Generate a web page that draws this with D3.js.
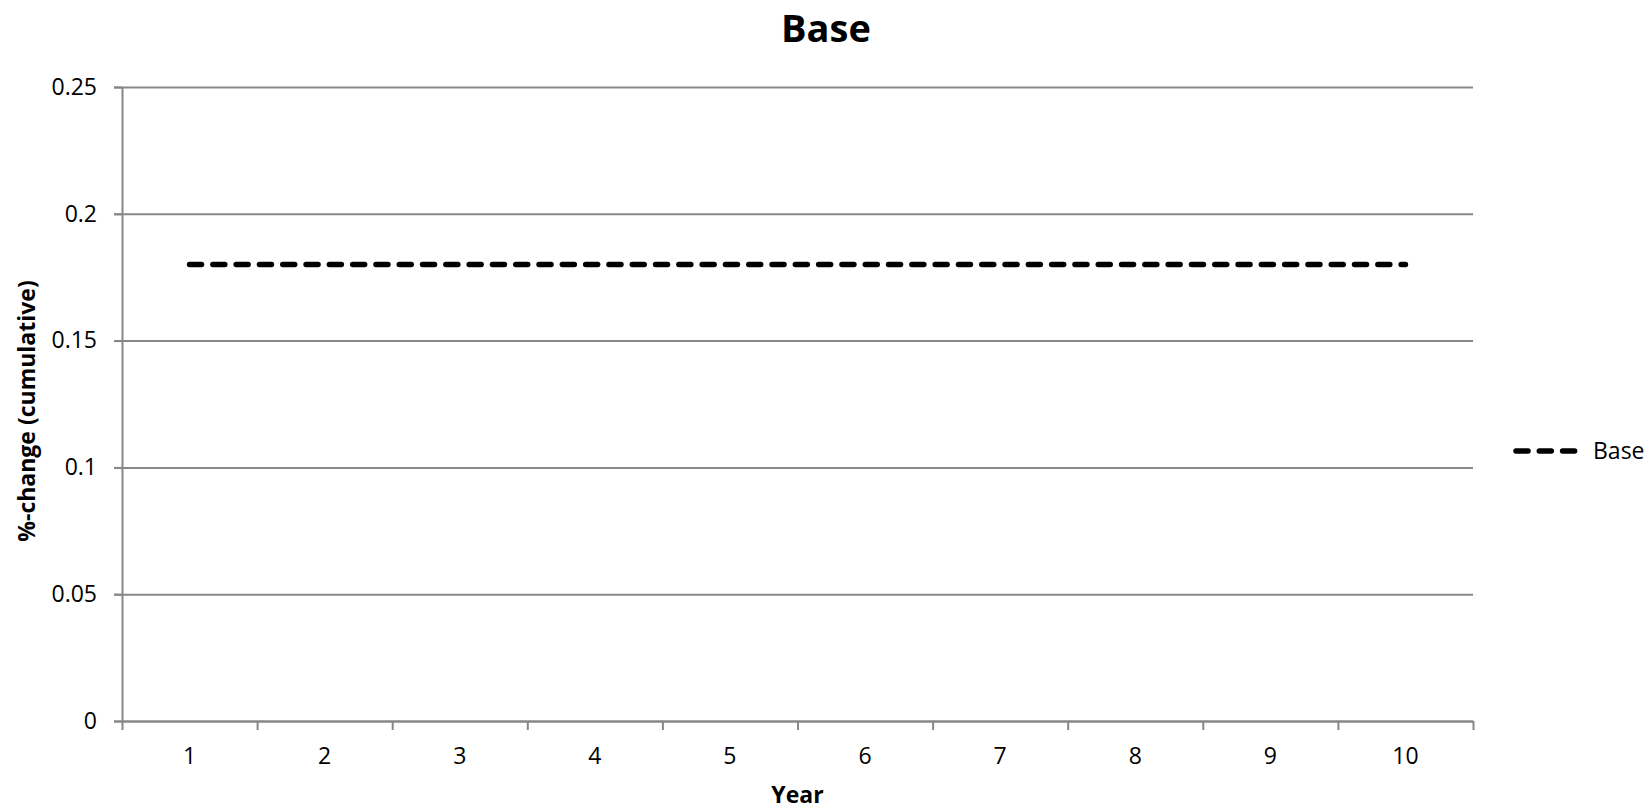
<!DOCTYPE html>
<html>
<head>
<meta charset="utf-8">
<script src="https://cdn.jsdelivr.net/npm/d3@7"></script>
<style>
  body { margin: 0; background: #fff; }
  svg { display: block; font-family: "Open Sans", sans-serif; }
</style>
</head>
<body>
<div id="chart"></div>
<script>
'use strict';

// data
const years = [1, 2, 3, 4, 5, 6, 7, 8, 9, 10];
const baseValues = [0.18, 0.18, 0.18, 0.18, 0.18, 0.18, 0.18, 0.18, 0.18, 0.18];
const yTicks = [0, 0.05, 0.1, 0.15, 0.2, 0.25];
const seriesName = 'Base';

const width = 1652;
const height = 810;
const margin = { top: 87, right: 179, bottom: 89, left: 122 };
const plotWidth = width - margin.left - margin.right;
const plotHeight = height - margin.top - margin.bottom;
const gridColor = '#878787';
const fontSize = '23px';

const svg = d3.select('#chart').append('svg')
  .attr('width', width)
  .attr('height', height);

const xScale = d3.scaleBand()
  .domain(years)
  .range([0, plotWidth]);

// boundaries between categories, for the tick marks
const xEdges = d3.scaleLinear()
  .domain([0, years.length])
  .range([0, plotWidth]);

const yScale = d3.scaleLinear()
  .domain([0, 0.25])
  .range([plotHeight, 0]);

const plot = svg.append('g')
  .attr('transform', `translate(${margin.left}, ${margin.top})`);

// horizontal gridlines (they run through the small left ticks)
plot.append('g')
  .attr('class', 'grid')
  .attr('transform', 'translate(-8, 0)')
  .call(d3.axisRight(yScale).tickValues(yTicks).tickSize(plotWidth + 8).tickFormat(''))
  .call(g => g.select('.domain').remove())
  .selectAll('line')
    .attr('stroke', gridColor)
    .attr('stroke-width', 2);

// y axis labels + axis line
plot.append('g')
  .call(d3.axisLeft(yScale).tickValues(yTicks).tickSize(8).tickSizeOuter(0).tickPadding(17)
    .tickFormat(d => d3.format('')(+d.toFixed(2))))
  .call(g => g.select('.domain').attr('stroke', gridColor).attr('stroke-width', 2))
  .call(g => g.selectAll('line').attr('stroke', gridColor).attr('stroke-width', 2))
  .call(g => g.selectAll('text')
    .attr('fill', '#000')
    .style('font-size', fontSize)
    .style('font-family', '"Open Sans", sans-serif'));

// x axis: tick marks between categories
plot.append('g')
  .attr('transform', `translate(0, ${plotHeight})`)
  .call(d3.axisBottom(xEdges).ticks(years.length).tickSize(9).tickSizeOuter(0).tickFormat(''))
  .call(g => g.select('.domain').attr('stroke', gridColor).attr('stroke-width', 2))
  .call(g => g.selectAll('line').attr('stroke', gridColor).attr('stroke-width', 2));

// x axis: labels at category centres
plot.append('g')
  .attr('transform', `translate(0, ${plotHeight})`)
  .call(d3.axisBottom(xScale).tickSize(0).tickPadding(27))
  .call(g => g.select('.domain').remove())
  .call(g => g.selectAll('text')
    .attr('fill', '#000')
    .style('font-size', fontSize)
    .style('font-family', '"Open Sans", sans-serif'));

// series line
const line = d3.line()
  .x((d, i) => xScale(years[i]) + xScale.bandwidth() / 2)
  .y(d => yScale(d));

plot.append('path')
  .datum(baseValues)
  .attr('fill', 'none')
  .attr('stroke', '#000')
  .attr('stroke-width', 5.5)
  .attr('stroke-linecap', 'round')
  .attr('stroke-dasharray', '12 11.3')
  .attr('d', line);

// title
svg.append('text')
  .attr('x', width / 2)
  .attr('y', 42)
  .attr('text-anchor', 'middle')
  .style('font-size', '38px')
  .style('font-weight', 'bold')
  .text(seriesName);

// axis titles
svg.append('text')
  .attr('x', margin.left + plotWidth / 2)
  .attr('y', 803)
  .attr('text-anchor', 'middle')
  .style('font-size', fontSize)
  .style('font-weight', 'bold')
  .text('Year');

svg.append('text')
  .attr('transform', 'translate(35, 411) rotate(-90)')
  .attr('text-anchor', 'middle')
  .style('font-size', fontSize)
  .style('font-weight', 'bold')
  .text('%-change (cumulative)');

// legend
const legend = svg.append('g')
  .attr('transform', 'translate(1514, 451)');

legend.append('line')
  .attr('x1', 2).attr('x2', 63)
  .attr('stroke', '#000')
  .attr('stroke-width', 5.5)
  .attr('stroke-linecap', 'round')
  .attr('stroke-dasharray', '12 11.3');

legend.append('text')
  .attr('x', 79)
  .attr('y', 8)
  .style('font-size', fontSize)
  .text(seriesName);
</script>
</body>
</html>
